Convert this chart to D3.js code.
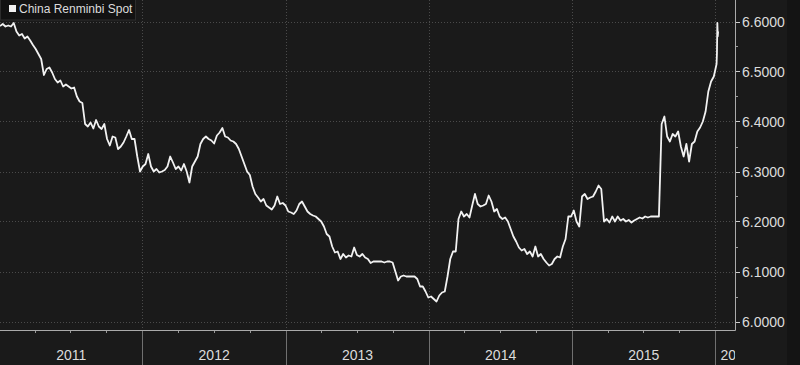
<!DOCTYPE html>
<html>
<head>
<meta charset="utf-8">
<script src="https://cdn.jsdelivr.net/npm/d3@7"></script>
<style>
  body { margin: 0; background: #1a1a1a; }
  svg { display: block; font-family: "Liberation Sans", Arial, sans-serif; }
</style>
</head>
<body>
<svg id="chart" width="800" height="365"></svg>
<script>
// series label and data, weekly closes
var seriesName = "China Renminbi Spot";
var weekStart = "2011-01-03";

var w2011 = [6.591, 6.595, 6.590, 6.592, 6.590, 6.597, 6.580, 6.572, 6.575, 6.566,
  6.570, 6.562, 6.553, 6.545, 6.535, 6.525, 6.493, 6.505, 6.508, 6.498,
  6.485, 6.478, 6.482, 6.470, 6.474, 6.470, 6.466, 6.468, 6.450, 6.440,
  6.437, 6.395, 6.390, 6.398, 6.386, 6.403, 6.390, 6.385, 6.395, 6.365,
  6.352, 6.370, 6.368, 6.345, 6.350, 6.358, 6.370, 6.383, 6.365, 6.365,
  6.330, 6.300];
var w2012 = [6.310, 6.315, 6.335, 6.310, 6.300, 6.305, 6.298, 6.300, 6.303, 6.310,
  6.330, 6.318, 6.305, 6.310, 6.302, 6.315, 6.300, 6.278, 6.310, 6.320,
  6.330, 6.355, 6.365, 6.370, 6.365, 6.362, 6.356, 6.372, 6.378, 6.387,
  6.370, 6.368, 6.362, 6.360, 6.355, 6.345, 6.330, 6.315, 6.300, 6.293,
  6.270, 6.255, 6.248, 6.240, 6.245, 6.232, 6.228, 6.224, 6.232, 6.250,
  6.235, 6.237];
var w2013 = [6.232, 6.220, 6.218, 6.215, 6.222, 6.235, 6.240, 6.230, 6.220, 6.215,
  6.212, 6.210, 6.205, 6.200, 6.190, 6.175, 6.170, 6.150, 6.138, 6.140,
  6.125, 6.135, 6.128, 6.132, 6.130, 6.148, 6.133, 6.130, 6.135, 6.128,
  6.125, 6.117, 6.120, 6.120, 6.120, 6.120, 6.118, 6.120, 6.120, 6.118,
  6.100, 6.082, 6.090, 6.092, 6.090, 6.090, 6.090, 6.090, 6.085, 6.070,
  6.070, 6.060];
var w2014 = [6.048, 6.050, 6.045, 6.040, 6.052, 6.058, 6.060, 6.090, 6.125, 6.140,
  6.140, 6.205, 6.220, 6.210, 6.215, 6.208, 6.232, 6.255, 6.235, 6.230,
  6.232, 6.235, 6.252, 6.240, 6.220, 6.225, 6.210, 6.205, 6.208, 6.200,
  6.185, 6.170, 6.160, 6.148, 6.142, 6.145, 6.135, 6.140, 6.130, 6.150,
  6.130, 6.135, 6.125, 6.118, 6.112, 6.115, 6.125, 6.130, 6.128, 6.150,
  6.165, 6.210];
var w2015 = [6.210, 6.222, 6.200, 6.190, 6.250, 6.255, 6.245, 6.248, 6.250, 6.260,
  6.272, 6.265, 6.200, 6.205, 6.198, 6.210, 6.200, 6.210, 6.202, 6.205,
  6.200, 6.203, 6.198, 6.202, 6.205, 6.208, 6.206, 6.210, 6.208, 6.210,
  6.210, 6.210, 6.210, 6.395, 6.410, 6.370, 6.360, 6.375, 6.370, 6.380,
  6.350, 6.330, 6.355, 6.320, 6.355, 6.360, 6.380, 6.388, 6.400, 6.420,
  6.460, 6.480];
// last few days, daily
var tailDates = ["2015-12-28", "2016-01-04", "2016-01-05", "2016-01-06", "2016-01-07", "2016-01-08"];
var tailValues = [6.490, 6.515, 6.537, 6.597, 6.570, 6.580];

var yTicks = [6.0, 6.1, 6.2, 6.3, 6.4, 6.5, 6.6];
var years = [2011, 2012, 2013, 2014, 2015, 2016];

var parse = d3.timeParse("%Y-%m-%d");
var data = [];
var weekly = w2011.concat(w2012, w2013, w2014, w2015);
weekly.forEach(function(v, i) {
  data.push({ date: d3.timeDay.offset(parse(weekStart), i * 7), value: v });
});
tailDates.forEach(function(d, i) {
  data.push({ date: parse(d), value: tailValues[i] });
});

var svg = d3.select("#chart");
var plotW = 735, plotB = 330;

var x = d3.scaleTime()
  .domain([parse("2011-01-03"), parse("2016-02-20")])
  .range([0, plotW]);
var y = d3.scaleLinear()
  .domain([6.0, 6.6])
  .range([321.5, 21.5]);

svg.append("rect").attr("width", 800).attr("height", 365).attr("fill", "#1a1a1a");
svg.append("rect").attr("x", 787).attr("width", 13).attr("height", 365).attr("fill", "#141414");

// grid
svg.append("g").selectAll("line")
  .data(yTicks).enter().append("line")
  .attr("x1", 0).attr("x2", plotW)
  .attr("y1", function(d) { return Math.round(y(d)) + 0.5; })
  .attr("y2", function(d) { return Math.round(y(d)) + 0.5; })
  .attr("stroke", "#4a4a4a").attr("stroke-dasharray", "1,2");

var yearStarts = years.map(function(yr) { return new Date(yr, 0, 1); });
svg.append("g").selectAll("line")
  .data(yearStarts.slice(1)).enter().append("line")
  .attr("x1", function(d) { return Math.round(x(d)) + 0.5; })
  .attr("x2", function(d) { return Math.round(x(d)) + 0.5; })
  .attr("y1", 0).attr("y2", plotB)
  .attr("stroke", "#4a4a4a").attr("stroke-dasharray", "1,2");

// year separators below the axis
svg.append("g").selectAll("line")
  .data(yearStarts.slice(1)).enter().append("line")
  .attr("x1", function(d) { return Math.round(x(d)) + 0.5; })
  .attr("x2", function(d) { return Math.round(x(d)) + 0.5; })
  .attr("y1", plotB).attr("y2", 365)
  .attr("stroke", "#707070");

// quarter ticks
var quarters = d3.timeMonth.every(3).range(parse("2011-01-03"), parse("2016-02-20"))
  .filter(function(d) { return d.getMonth() !== 0; });
svg.append("g").selectAll("line")
  .data(quarters).enter().append("line")
  .attr("x1", function(d) { return Math.round(x(d)) + 0.5; })
  .attr("x2", function(d) { return Math.round(x(d)) + 0.5; })
  .attr("y1", plotB).attr("y2", plotB + 3)
  .attr("stroke", "#999");

// axis lines
svg.append("line").attr("x1", 0).attr("x2", plotW + 0.5)
  .attr("y1", plotB + 0.5).attr("y2", plotB + 0.5).attr("stroke", "#aaa");
svg.append("line").attr("x1", plotW + 0.5).attr("x2", plotW + 0.5)
  .attr("y1", 0).attr("y2", plotB + 0.5).attr("stroke", "#aaa");

// year labels
svg.append("clipPath").attr("id", "xclip").append("rect")
  .attr("x", 0).attr("y", plotB).attr("width", plotW).attr("height", 40);
svg.append("g").attr("clip-path", "url(#xclip)").selectAll("text")
  .data(years).enter().append("text")
  .attr("x", function(yr) {
    var x0 = Math.max(0, x(new Date(yr, 0, 1)));
    var x1 = Math.min(plotW, x(new Date(yr + 1, 0, 1)));
    return (x1 - x0 > 40) ? (x0 + x1) / 2 : x0 + 5;
  })
  .attr("text-anchor", function(yr) {
    var x0 = Math.max(0, x(new Date(yr, 0, 1)));
    var x1 = Math.min(plotW, x(new Date(yr + 1, 0, 1)));
    return (x1 - x0 > 40) ? "middle" : "start";
  })
  .attr("y", 360)
  .attr("fill", "#dcdcdc").attr("font-size", 14)
  .text(function(yr) { return yr; });

// right axis
var fmt = d3.format(".4f");
var ra = svg.append("g");
ra.selectAll(".maj").data(yTicks).enter().append("line")
  .attr("x1", plotW + 1).attr("x2", plotW + 5)
  .attr("y1", function(d) { return Math.round(y(d)) + 0.5; })
  .attr("y2", function(d) { return Math.round(y(d)) + 0.5; })
  .attr("stroke", "#ccc");
ra.selectAll(".min").data(yTicks.slice(0, -1)).enter().append("line")
  .attr("x1", plotW + 1).attr("x2", plotW + 3)
  .attr("y1", function(d) { return Math.round(y(d + 0.05)) + 0.5; })
  .attr("y2", function(d) { return Math.round(y(d + 0.05)) + 0.5; })
  .attr("stroke", "#999");
ra.selectAll("text").data(yTicks).enter().append("text")
  .attr("x", plotW + 7)
  .attr("y", function(d) { return y(d) + 5; })
  .attr("fill", "#dcdcdc").attr("font-size", 14)
  .text(function(d) { return fmt(d); });

// the line
var line = d3.line()
  .x(function(d) { return x(d.date); })
  .y(function(d) { return y(d.value); });
svg.append("path").datum(data)
  .attr("d", line)
  .attr("fill", "none")
  .attr("stroke", "#f2f2f2")
  .attr("stroke-width", 1.8)
  .attr("stroke-linejoin", "round");

// legend
var lg = svg.append("g");
lg.append("rect").attr("x", 0.5).attr("y", -1).attr("width", 135).attr("height", 21)
  .attr("fill", "#121212").attr("stroke", "#2c2c2c");
lg.append("rect").attr("x", 9).attr("y", 5).attr("width", 7).attr("height", 7).attr("fill", "#f2f2f2");
lg.append("text").attr("x", 19).attr("y", 13)
  .attr("fill", "#dcdcdc").attr("font-size", 12)
  .text(seriesName);
</script>
</body>
</html>
